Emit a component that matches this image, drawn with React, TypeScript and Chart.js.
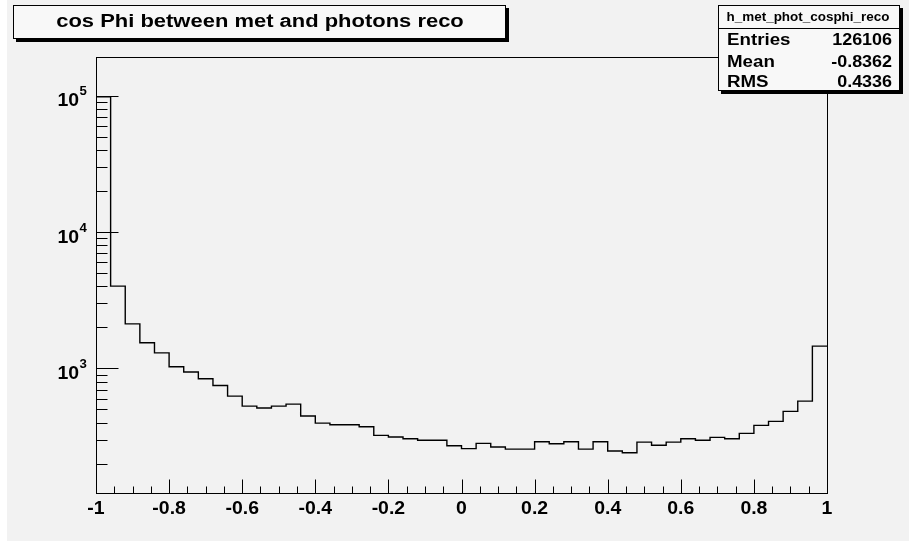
import React, { useEffect, useRef } from "react";
import { Chart, registerables } from "chart.js";

Chart.register(...registerables);

// ---- data ----
const histTitle = "cos Phi between met and photons reco";
const statsName = "h_met_phot_cosphi_reco";
const statsLabels = ["Entries", "Mean", "RMS"];
const statsValues = ["126106", "-0.8362", "0.4336"];

const xMin = -1;
const xMax = 1;
const binCounts = [
  98100, 4010, 2120, 1540, 1300, 1027, 940, 840, 750, 626,
  529, 512, 529, 547, 448, 397, 386, 386, 373, 323,
  314, 305, 297, 297, 271, 258, 282, 265, 256, 256,
  290, 280, 290, 256, 290, 248, 241, 288, 273, 288,
  305, 297, 312, 305, 334, 382, 409, 484, 575, 1456,
];
const yMin = 122;
const yMax = 192000;

const xTickValues = [-1, -0.8, -0.6, -0.4, -0.2, 0, 0.2, 0.4, 0.6, 0.8, 1];
const xTickLabels = ["-1", "-0.8", "-0.6", "-0.4", "-0.2", "0", "0.2", "0.4", "0.6", "0.8", "1"];
const yDecadeExponents = [2, 3, 4, 5];
const yLabelExponents = [3, 4, 5];

const FONT = '"Liberation Sans", Arial, Helvetica, sans-serif';

function stretchedText(
  ctx: CanvasRenderingContext2D,
  text: string,
  x: number,
  y: number,
  font: string,
  sx: number,
  align: "left" | "center" | "right"
) {
  ctx.save();
  ctx.font = font;
  const w = ctx.measureText(text).width * sx;
  const left = align === "center" ? x - w / 2 : align === "right" ? x - w : x;
  ctx.translate(left, y);
  ctx.scale(sx, 1);
  ctx.textAlign = "left";
  ctx.textBaseline = "alphabetic";
  ctx.fillText(text, 0, 0);
  ctx.restore();
  return w;
}

function drawBox(ctx: CanvasRenderingContext2D, l: number, t: number, r: number, b: number) {
  ctx.save();
  ctx.fillStyle = "#000";
  ctx.fillRect(l + 3, t + 3, r - l, b - t);
  ctx.fillStyle = "#f8f8f8";
  ctx.fillRect(l, t, r - l, b - t);
  ctx.strokeStyle = "#000";
  ctx.lineWidth = 1;
  ctx.strokeRect(l + 0.5, t + 0.5, r - l - 1, b - t - 1);
  ctx.restore();
}

const rootStyle = {
  id: "rootStyle",
  beforeDraw(chart: any) {
    const ctx: CanvasRenderingContext2D = chart.ctx;
    ctx.save();
    ctx.fillStyle = "#ffffff";
    ctx.fillRect(0, 0, chart.width, chart.height);
    ctx.fillStyle = "#f2f2f2";
    ctx.fillRect(7, 0, chart.width - 7, chart.height);
    ctx.restore();
  },
  afterDatasetsDraw(chart: any) {
    const ctx: CanvasRenderingContext2D = chart.ctx;
    const xs = chart.scales.x;
    const ys = chart.scales.y;
    const ca = chart.chartArea;
    ctx.save();
    ctx.strokeStyle = "#000";
    ctx.fillStyle = "#000";
    ctx.lineWidth = 1;

    // frame
    ctx.strokeRect(Math.round(ca.left) + 0.5, Math.round(ca.top) + 0.5,
      Math.round(ca.right - ca.left), Math.round(ca.bottom - ca.top));

    const bottom = Math.round(ca.bottom) + 0.5;
    const left = Math.round(ca.left) + 0.5;

    // x ticks (major + 3 minor between)
    ctx.beginPath();
    for (let i = 0; i < xTickValues.length; i++) {
      const px = Math.round(xs.getPixelForValue(xTickValues[i])) + 0.5;
      ctx.moveTo(px, bottom);
      ctx.lineTo(px, bottom - 14);
      if (i < xTickValues.length - 1) {
        const a = xTickValues[i];
        const b = xTickValues[i + 1];
        for (let k = 1; k < 4; k++) {
          const mx = Math.round(xs.getPixelForValue(a + ((b - a) * k) / 4)) + 0.5;
          ctx.moveTo(mx, bottom);
          ctx.lineTo(mx, bottom - 7);
        }
      }
    }
    // y ticks (log)
    for (const e of yDecadeExponents) {
      for (let m = 1; m <= 9; m++) {
        const v = m * Math.pow(10, e);
        if (v < yMin || v > yMax) continue;
        const py = Math.round(ys.getPixelForValue(v)) + 0.5;
        ctx.moveTo(left, py);
        ctx.lineTo(left + (m === 1 ? 22 : 11), py);
      }
    }
    ctx.stroke();

    // x labels
    for (let i = 0; i < xTickValues.length; i++) {
      const px = xs.getPixelForValue(xTickValues[i]);
      stretchedText(ctx, xTickLabels[i], px, 514, "bold 18px " + FONT, 1.08, "center");
    }
    // y labels 10^e
    for (const e of yLabelExponents) {
      const py = ys.getPixelForValue(Math.pow(10, e));
      stretchedText(ctx, "10", 79, py + 10.5, "bold 18px " + FONT, 1.08, "right");
      stretchedText(ctx, String(e), 79.5, py - 0.5, "bold 12px " + FONT, 1.1, "left");
    }

    // title box
    drawBox(ctx, 13, 5, 506, 39);
    ctx.fillStyle = "#000";
    stretchedText(ctx, histTitle, 260, 27, "bold 18px " + FONT, 1.22, "center");

    // stats box
    drawBox(ctx, 718, 5, 900, 91);
    ctx.beginPath();
    ctx.moveTo(718, 28.5);
    ctx.lineTo(900, 28.5);
    ctx.stroke();
    ctx.fillStyle = "#000";
    stretchedText(ctx, statsName, 808, 21, "bold 12px " + FONT, 1.12, "center");
    const rowBase = [45, 66.5, 87];
    for (let i = 0; i < statsLabels.length; i++) {
      stretchedText(ctx, statsLabels[i], 727, rowBase[i], "bold 16px " + FONT, 1.17, "left");
      stretchedText(ctx, statsValues[i], 892, rowBase[i], "bold 16px " + FONT, 1.12, "right");
    }
    ctx.restore();
  },
};

export default function App() {
  const ref = useRef<HTMLCanvasElement | null>(null);
  useEffect(() => {
    document.body.style.margin = "0";
    document.body.style.background = "#f2f2f2";
    if (!ref.current) return;
    const binWidth = (xMax - xMin) / binCounts.length;
    const points = binCounts.map((v, i) => ({ x: xMin + i * binWidth, y: v }));
    points.push({ x: xMax, y: binCounts[binCounts.length - 1] });
    const chart = new Chart(ref.current, {
      type: "line",
      data: {
        datasets: [
          {
            data: points,
            stepped: "before",
            borderColor: "#000",
            borderWidth: 1.4,
            pointRadius: 0,
            fill: false,
          } as any,
        ],
      },
      options: {
        responsive: false,
        animation: false,
        devicePixelRatio: 1,
        layout: { padding: { left: 96, right: 82, top: 57, bottom: 48 } },
        plugins: { legend: { display: false }, tooltip: { enabled: false }, title: { display: false } },
        scales: {
          x: { type: "linear", min: xMin, max: xMax, display: false },
          y: { type: "logarithmic", min: yMin, max: yMax, display: false },
        },
      },
      plugins: [rootStyle],
    });
    return () => chart.destroy();
  }, []);
  return (
    <div style={{ position: "absolute", left: 0, top: 0, width: 909, height: 541, overflow: "hidden" }}>
      <canvas ref={ref} width={909} height={541} style={{ display: "block", width: 909, height: 541 }} />
    </div>
  );
}
